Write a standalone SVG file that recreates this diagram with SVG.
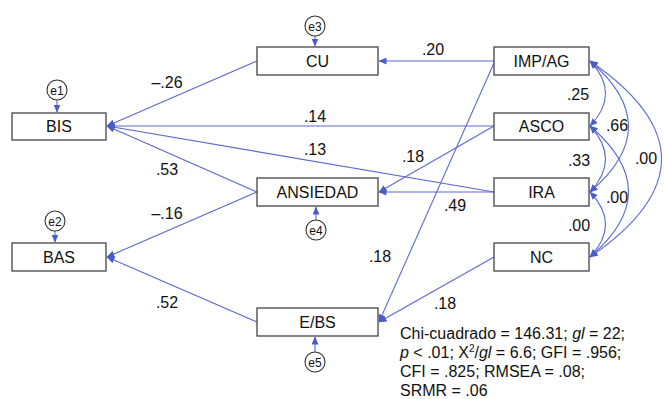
<svg xmlns="http://www.w3.org/2000/svg" width="664" height="399" viewBox="0 0 664 399">
<style>
.box{fill:#fff;stroke:#444;stroke-width:1.3}
.bt{font-family:"Liberation Sans",Arial,sans-serif;font-size:16px;fill:#111;text-anchor:middle}
.err{fill:#fff;stroke:#333;stroke-width:1.1}
.et{font-family:"Liberation Sans",Arial,sans-serif;font-size:12px;fill:#111;text-anchor:middle}
.c{fill:none;stroke:#5b6bd0;stroke-width:1.1}
.a{marker-end:url(#ah)}
.d{marker-end:url(#ah);marker-start:url(#ah)}
.lb{font-family:"Liberation Sans",Arial,sans-serif;font-size:16px;fill:#111;text-anchor:middle}
.st{font-family:"Liberation Sans",Arial,sans-serif;font-size:16px;fill:#111}
</style>
<defs>
<marker id="ah" markerUnits="userSpaceOnUse" markerWidth="8" markerHeight="7" refX="7.5" refY="3.5" orient="auto-start-reverse">
<path d="M0,0 L8,3.5 L0,7 z" fill="#4a5cc8"/>
</marker>
</defs>
<rect width="664" height="399" fill="#fff"/>
<g id="connectors">
<line class="c a" x1="257" y1="61" x2="107" y2="126"/>
<line class="c a" x1="494" y1="126" x2="107" y2="126"/>
<line class="c a" x1="494" y1="192" x2="107" y2="126"/>
<line class="c a" x1="257" y1="192" x2="107" y2="126"/>
<line class="c a" x1="257" y1="192" x2="107" y2="257"/>
<line class="c a" x1="257" y1="322" x2="107" y2="257"/>
<line class="c a" x1="494" y1="61" x2="379" y2="61"/>
<line class="c a" x1="494" y1="126" x2="379" y2="192"/>
<line class="c a" x1="494" y1="192" x2="379" y2="192"/>
<line class="c a" x1="494" y1="63" x2="379" y2="322"/>
<line class="c a" x1="494" y1="257" x2="379" y2="322"/>
<path class="c d" d="M590,61 Q621,93.5 590,126"/>
<path class="c d" d="M590,126 Q621,159 590,192"/>
<path class="c d" d="M590,192 Q621,224.5 590,257"/>
<path class="c d" d="M590,61 Q667,126.5 590,192"/>
<path class="c d" d="M590,126 Q667,191.5 590,257"/>
<path class="c d" d="M590,61 Q733,159 590,257"/>
<line class="c a" x1="57" y1="100" x2="57" y2="112"/>
<line class="c a" x1="55" y1="231" x2="55" y2="242"/>
<line class="c a" x1="315" y1="36" x2="315" y2="46"/>
<line class="c a" x1="316" y1="220" x2="316" y2="207"/>
<line class="c a" x1="315" y1="352" x2="315" y2="337"/>
</g>
<g id="BIS"><rect class="box" x="12" y="113" width="94" height="27"/><text class="bt" x="59" y="132">BIS</text></g>
<g id="BAS"><rect class="box" x="12" y="243" width="94" height="28"/><text class="bt" x="59" y="262.5">BAS</text></g>
<g id="CU"><rect class="box" x="257" y="47" width="121" height="28"/><text class="bt" x="317.5" y="66.5">CU</text></g>
<g id="ANSIEDAD"><rect class="box" x="257" y="178" width="121" height="28"/><text class="bt" x="317.5" y="197.5">ANSIEDAD</text></g>
<g id="EBS"><rect class="box" x="257" y="308" width="121" height="28"/><text class="bt" x="317.5" y="327.5">E/BS</text></g>
<g id="IMPAG"><rect class="box" x="494" y="47" width="95" height="28"/><text class="bt" x="541.5" y="66.5">IMP/AG</text></g>
<g id="ASCO"><rect class="box" x="494" y="113" width="95" height="27"/><text class="bt" x="541.5" y="132">ASCO</text></g>
<g id="IRA"><rect class="box" x="494" y="178" width="95" height="28"/><text class="bt" x="541.5" y="197.5">IRA</text></g>
<g id="NC"><rect class="box" x="494" y="243" width="95" height="28"/><text class="bt" x="541.5" y="262.5">NC</text></g>
<g id="e1"><circle class="err" cx="57" cy="90" r="10"/><text class="et" x="57" y="94.5">e1</text></g>
<g id="e2"><circle class="err" cx="55" cy="221" r="10"/><text class="et" x="55" y="225.5">e2</text></g>
<g id="e3"><circle class="err" cx="315" cy="26" r="10"/><text class="et" x="315" y="30.5">e3</text></g>
<g id="e4"><circle class="err" cx="316" cy="230" r="10"/><text class="et" x="316" y="234.5">e4</text></g>
<g id="e5"><circle class="err" cx="315" cy="362" r="10"/><text class="et" x="315" y="366.5">e5</text></g>
<g id="labels">
<text class="lb" x="167" y="88">–.26</text>
<text class="lb" x="315" y="122">.14</text>
<text class="lb" x="315" y="155">.13</text>
<text class="lb" x="167" y="175">.53</text>
<text class="lb" x="167" y="219">–.16</text>
<text class="lb" x="167" y="308">.52</text>
<text class="lb" x="433" y="55">.20</text>
<text class="lb" x="413" y="162">.18</text>
<text class="lb" x="455" y="211">.49</text>
<text class="lb" x="380" y="262">.18</text>
<text class="lb" x="445" y="309">.18</text>
<text class="lb" x="578" y="100">.25</text>
<text class="lb" x="579" y="166">.33</text>
<text class="lb" x="579" y="231">.00</text>
<text class="lb" x="617" y="131">.66</text>
<text class="lb" x="617" y="203">.00</text>
<text class="lb" x="646" y="164">.00</text>
</g>
<g id="stats">
<text class="st" x="400" y="339">Chi-cuadrado = 146.31; <tspan font-style="italic">gl</tspan> = 22;</text>
<text class="st" x="400" y="358"><tspan font-style="italic">p</tspan> &lt; .01; X<tspan font-size="10px" dy="-6">2</tspan><tspan dy="6">/</tspan><tspan font-style="italic">gl</tspan> = 6.6; GFI = .956;</text>
<text class="st" x="400" y="377">CFI = .825; RMSEA = .08;</text>
<text class="st" x="400" y="395.5">SRMR = .06</text>
</g>
</svg>
